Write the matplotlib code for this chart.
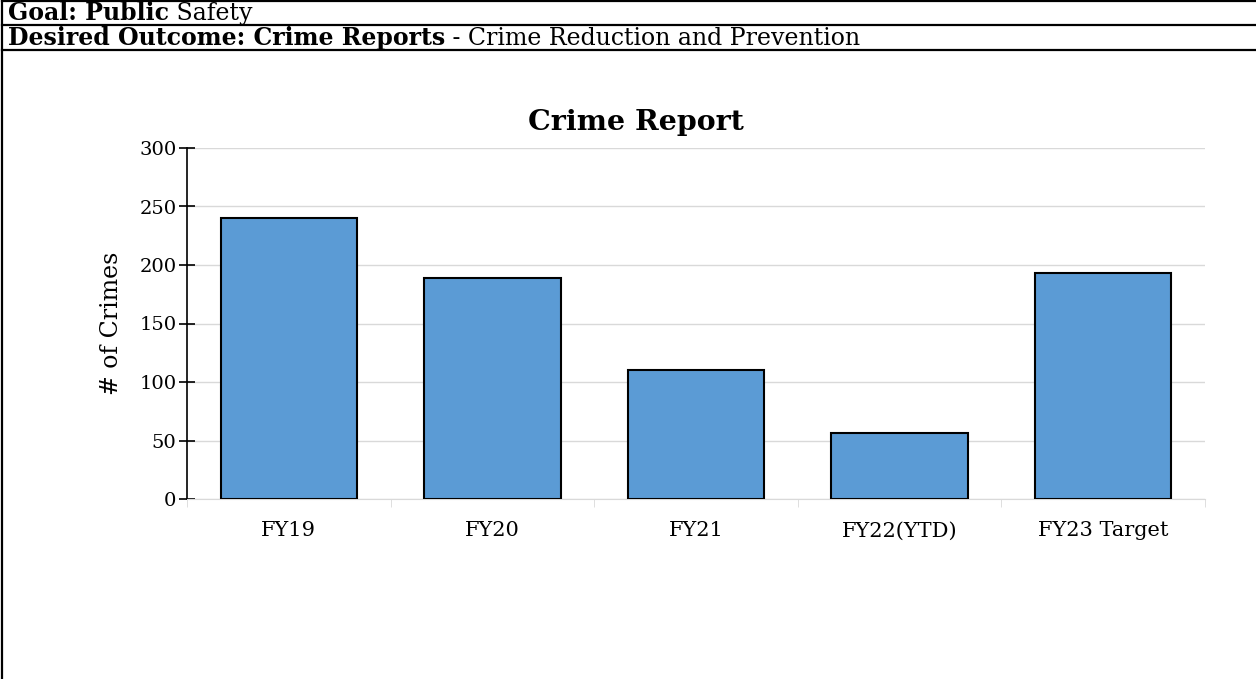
import numpy as np
import matplotlib
matplotlib.use('Agg')
import matplotlib.pyplot as plt
from matplotlib.lines import Line2D

categories = ['FY19', 'FY20', 'FY21', 'FY22(YTD)', 'FY23 Target']
crimes = [240, 189, 110, 56, 193]
yticks = [0, 50, 100, 150, 200, 250, 300]

plt.rcParams['font.family'] = 'DejaVu Serif'

W, H = 1256, 679
fig = plt.figure(figsize=(W / 100, H / 100), dpi=100)


def fx(px):
    return px / W


def fy(py):
    return 1 - py / H


# table frame
for y in [1, 25, 50]:
    fig.add_artist(Line2D([fx(2), 1], [fy(y), fy(y)], color='black', lw=1.6))
fig.add_artist(Line2D([fx(2), fx(2)], [fy(0), 0], color='black', lw=1.6))

# header rows, bold part + regular part
t1 = fig.text(fx(8), fy(13), 'Goal: Public', fontsize=17, fontweight='bold', va='center')
fig.canvas.draw()
bb = t1.get_window_extent()
fig.text(bb.x1 / W, bb.y0 / H, ' Safety', fontsize=17, va='bottom')
t2 = fig.text(fx(8), fy(38), 'Desired Outcome: Crime Reports', fontsize=17, fontweight='bold', va='center')
fig.canvas.draw()
bb = t2.get_window_extent()
fig.text(bb.x1 / W, bb.y0 / H, ' - Crime Reduction and Prevention', fontsize=17, va='bottom')

fig.text(fx(636), fy(122), 'Crime Report', fontsize=20.5, fontweight='bold', ha='center', va='center')

ax = fig.add_axes([fx(187), fy(499), fx(1205) - fx(187), (499 - 148) / H])
x = np.arange(len(categories))
ax.bar(x, crimes, width=0.67, color='#5B9BD5', edgecolor='black', linewidth=1.5, zorder=3)

ax.set_xlim(-0.5, len(categories) - 0.5)
ax.set_ylim(0, 300)
ax.set_yticks(yticks)
ax.set_xticks(x)
ax.set_xticklabels(categories)
ax.set_xticks(np.arange(len(categories) + 1) - 0.5, minor=True)
ax.tick_params(axis='x', which='major', length=0, pad=27, labelsize=15)
ax.tick_params(axis='x', which='minor', length=6, color='#d9d9d9', direction='out')
ax.tick_params(axis='y', direction='inout', length=11, width=1.2, labelsize=14, pad=2)
for lab in ax.get_xticklabels():
    lab.set_verticalalignment('baseline')
ax.grid(axis='y', color='#d9d9d9', lw=1, zorder=0)
for s in ['top', 'right']:
    ax.spines[s].set_visible(False)
ax.spines['bottom'].set_color('#d9d9d9')
ax.spines['left'].set_linewidth(1.2)
ax.set_ylabel('# of Crimes', fontsize=17, labelpad=12)

plt.savefig('out.png', dpi=100)
